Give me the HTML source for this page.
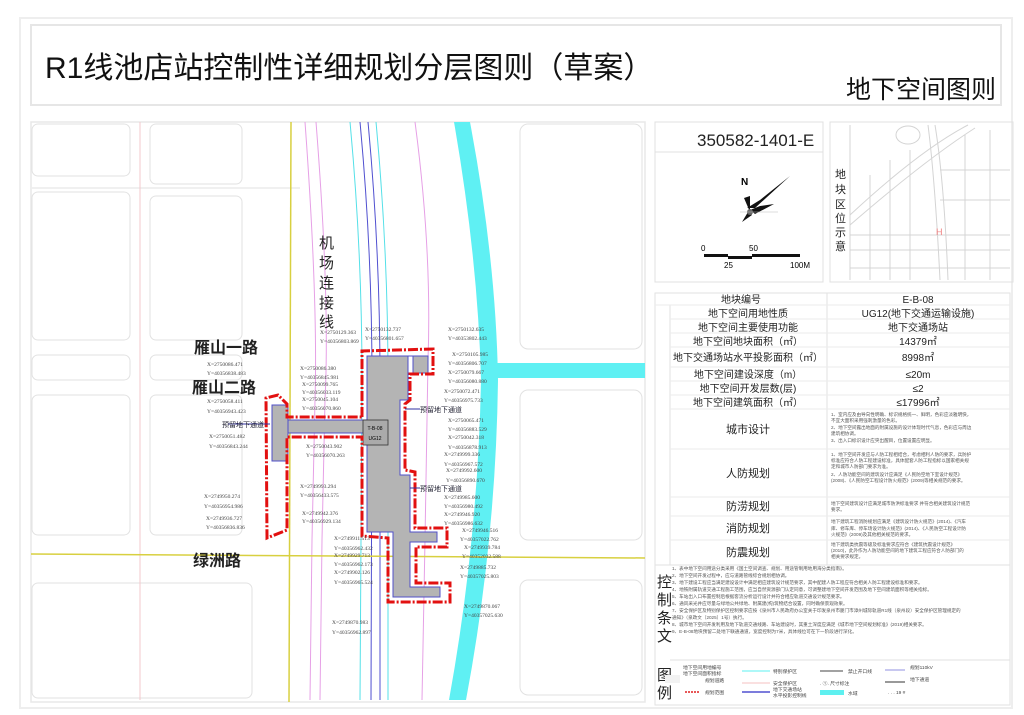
<!DOCTYPE html>
<html><head><meta charset="utf-8"><style>
html,body{margin:0;padding:0;background:#fff;}
body{width:1024px;height:715px;position:relative;overflow:hidden;font-family:"Liberation Sans","Noto Sans CJK SC",sans-serif;}
.abs{position:absolute;}
</style></head><body>
<svg class="abs" style="left:0;top:0" width="1024" height="715" viewBox="0 0 1024 715" font-family="Liberation Sans, Noto Sans CJK SC, sans-serif">
<rect x="20" y="18" width="992" height="690" fill="none" stroke="#eee" stroke-width="2"/>
<rect x="31" y="25" width="970" height="80" fill="none" stroke="#e6e6e6" stroke-width="2"/>
<text x="45" y="78" font-size="30" fill="#111">R1线池店站控制性详细规划分层图则（草案）</text>
<text x="846" y="98" font-size="25" fill="#111">地下空间图则</text>

<rect x="31" y="122" width="614" height="580" fill="#fff" stroke="#e8e8e8" stroke-width="1.5"/>
<g fill="none" stroke="#e2e2e2" stroke-width="1">
<rect x="32" y="124" width="98" height="52" rx="6"/>
<rect x="150" y="124" width="92" height="60" rx="6"/>
<rect x="32" y="192" width="98" height="148" rx="6"/>
<rect x="150" y="196" width="92" height="144" rx="6"/>
<rect x="32" y="355" width="98" height="25" rx="6"/>
<rect x="150" y="355" width="92" height="25" rx="6"/>
<rect x="32" y="395" width="98" height="140" rx="6"/>
<rect x="150" y="395" width="92" height="140" rx="6"/>
<rect x="32" y="583" width="220" height="115" rx="6"/>
<rect x="520" y="124" width="122" height="225" rx="8"/>
<rect x="520" y="390" width="122" height="150" rx="8"/>
<rect x="520" y="580" width="122" height="115" rx="8"/>
<line x1="32" y1="188" x2="300" y2="188"/>
</g>
<g fill="none" stroke="#e6a0e6" stroke-width="1">
<path d="M305 122 Q318 300 315 400 L312 540 L310 700"/>
<path d="M316 122 Q330 300 325 400 L322 540 L320 700"/>
<path d="M415 122 Q432 250 428 360 L425 540 L422 700"/>
<path d="M140 122 L140 700" stroke="#f3c8cc"/>
</g>
<g fill="none" stroke-width="1">
<path d="M350 122 Q362 250 362 380 L360 700" stroke="#55e0e8"/>
<path d="M360 122 Q372 250 372 380 L371 700" stroke="#5050d0"/>
<path d="M368 122 Q380 250 380 380 L380 700" stroke="#5050d0"/>
<path d="M376 122 Q388 250 388 380 L388 700" stroke="#55e0e8"/>
</g>
<path d="M454 122 L470 122 Q496 260 498 380 Q496 540 466 700 L449 700 Q478 540 481 380 Q478 260 454 122 Z" fill="#5ff0f3"/>
<rect x="490" y="363" width="155" height="15" fill="#5ff0f3"/>
<line x1="291" y1="122" x2="289" y2="702" stroke="#d8d040" stroke-width="1.5"/>
<line x1="31" y1="554" x2="645" y2="558" stroke="#d8d040" stroke-width="1.5"/>
<!-- gray station -->
<path d="M367 356 L413 356 L413 373 L428 373 L428 356 L413 356 L408 356 L408 400 L400 400 L400 475 L410 475 L410 532 L437 532 L437 542 L410 542 L410 587 L440 587 L440 597 L393 597 L393 542 L393 532 L367 532 Z" fill="#b4b4b4" stroke="#5050c8" stroke-width="1"/>
<rect x="413" y="356" width="15" height="17" fill="#b4b4b4" stroke="#5050c8"/>
<rect x="286" y="420" width="82" height="13" fill="#b4b4b4"/>
<line x1="287" y1="420" x2="367" y2="420" stroke="#5050c8"/>
<line x1="287" y1="433" x2="367" y2="433" stroke="#5050c8"/>
<rect x="272" y="405" width="16" height="56" fill="#b4b4b4" stroke="#5050c8"/>
<rect x="363" y="420" width="25" height="25" fill="#aaa" stroke="#333" stroke-width="0.8"/>
<text x="375" y="430" font-size="5" text-anchor="middle">T-B-08</text>
<text x="375" y="440" font-size="5" text-anchor="middle">UG12</text>
<!-- red boundary -->
<path d="M362 417 L362 351 L433 349 L433 374 L410 374 L410 400 L405 404 L405 470 L415 472 L415 528 L447 528 L447 547 L416 547 L416 583 L450 583 L450 602 L388 602 L388 538 L362 536 L362 437 L287 437 L287 530 L267 538 L266 398 L278 395 L287 404 L287 417 Z" fill="none" stroke="#e21010" stroke-width="3" stroke-dasharray="10,2,2,2"/>
<g font-size="7" fill="#223">
<line x1="405" y1="409" x2="420" y2="409" stroke="#3030a0"/><text x="420" y="412">预留地下通道</text>
<line x1="410" y1="488" x2="420" y2="488" stroke="#3030a0"/><text x="420" y="491">预留地下通道</text>
<line x1="228" y1="424" x2="270" y2="424" stroke="#3030a0"/><text x="222" y="427">预留地下通道</text>
</g>
<g font-size="16" font-weight="bold" fill="#222">
<text x="194" y="353">雁山一路</text>
<text x="192" y="393">雁山二路</text>
<text x="193" y="566">绿洲路</text>
</g>
<g font-size="15" fill="#222">
<text x="319" y="248">机</text><text x="319" y="268">场</text><text x="319" y="288">连</text><text x="319" y="308">接</text><text x="319" y="327">线</text>
</g>
<g font-size="5.5" fill="#444" font-family="Liberation Serif, serif">
<text x="320" y="334">X=2750129.363</text><text x="320" y="343">Y=40356803.869</text>
<text x="365" y="331">X=2750132.737</text><text x="365" y="340">Y=40356801.657</text>
<text x="448" y="331">X=2750132.635</text><text x="448" y="340">Y=40353802.443</text>
<text x="452" y="356">X=2750105.985</text><text x="448" y="365">Y=40356806.707</text>
<text x="448" y="374">X=2750079.667</text><text x="448" y="383">Y=40356080.880</text>
<text x="444" y="393">X=2750072.471</text><text x="444" y="402">Y=40356975.733</text>
<text x="448" y="422">X=2750065.471</text><text x="448" y="431">Y=40356883.529</text>
<text x="448" y="439">X=2750042.318</text><text x="448" y="449">Y=40356878.913</text>
<text x="444" y="456">X=2749999.336</text><text x="444" y="466">Y=40356967.572</text>
<text x="446" y="472">X=2749992.600</text><text x="446" y="482">Y=40356890.670</text>
<text x="444" y="499">X=2749985.600</text><text x="444" y="508">Y=40356980.492</text>
<text x="444" y="516">X=2749946.920</text><text x="444" y="525">Y=40356986.632</text>
<text x="462" y="532">X=2749946.516</text><text x="460" y="541">Y=40357022.762</text>
<text x="464" y="549">X=2749939.784</text><text x="462" y="558">Y=40352032.588</text>
<text x="460" y="569">X=2749885.732</text><text x="460" y="578">Y=40357025.803</text>
<text x="464" y="608">X=2749870.067</text><text x="464" y="617">Y=40357025.630</text>
<text x="300" y="370">X=2750086.380</text><text x="300" y="379">Y=40356845.981</text>
<text x="302" y="386">X=2750099.765</text><text x="302" y="394">Y=40356033.119</text>
<text x="302" y="401">X=2750045.104</text><text x="302" y="410">Y=40356070.860</text>
<text x="306" y="448">X=2750043.902</text><text x="306" y="457">Y=40356070.263</text>
<text x="300" y="488">X=2749993.294</text><text x="300" y="497">Y=40356433.575</text>
<text x="302" y="515">X=2749942.376</text><text x="302" y="523">Y=40356929.134</text>
<text x="334" y="540">X=2749911.513</text><text x="334" y="550">Y=40356962.432</text>
<text x="334" y="557">X=2749929.713</text><text x="334" y="566">Y=40356962.173</text>
<text x="334" y="574">X=2749902.126</text><text x="334" y="584">Y=40356965.524</text>
<text x="332" y="624">X=2749870.983</text><text x="332" y="634">Y=40356962.897</text>
<text x="207" y="366">X=2750086.471</text><text x="207" y="375">Y=40356838.483</text>
<text x="207" y="403">X=2750058.411</text><text x="207" y="413">Y=40356943.423</text>
<text x="209" y="438">X=2750051.482</text><text x="209" y="448">Y=40356843.244</text>
<text x="204" y="498">X=2749950.274</text><text x="204" y="508">Y=40356954.986</text>
<text x="206" y="520">X=2749936.727</text><text x="206" y="529">Y=40356836.836</text>
</g>

<rect x="655" y="122" width="168" height="160" fill="none" stroke="#e0e0e0"/>
<line x1="655" y1="152" x2="823" y2="152" stroke="#e0e0e0"/>
<text x="697" y="146" font-size="17" fill="#222">350582-1401-E</text>
<text x="741" y="185" font-size="10" font-weight="bold">N</text>
<g fill="#111">
<polygon points="790,176 760,200 747,208 755,208"/>
<polygon points="750,196 744,198 750,212"/>
<polygon points="750,210 760,206 774,204 755,214"/>
<polygon points="748,212 742,222 752,215"/>
<circle cx="750" cy="212" r="3" fill="#666"/>
</g>
<line x1="740" y1="212" x2="778" y2="212" stroke="#bbb" stroke-width="0.6"/>
<rect x="704" y="254" width="24" height="3" fill="#111"/>
<rect x="728" y="256" width="24" height="3" fill="#111"/>
<rect x="752" y="254" width="48" height="3" fill="#111"/>
<text x="701" y="251" font-size="8">0</text><text x="749" y="251" font-size="8">50</text>
<text x="724" y="268" font-size="8">25</text><text x="790" y="268" font-size="8">100M</text>
<rect x="830" y="122" width="183" height="160" fill="none" stroke="#e0e0e0"/>
<g fill="none" stroke="#d4d4d4" stroke-width="1">
<line x1="850" y1="125" x2="850" y2="280"/>
<path d="M850 215 Q920 150 968 125"/><path d="M850 225 Q925 160 975 128"/>
<path d="M928 125 Q935 180 940 280"/><path d="M935 125 Q944 180 948 280"/>
<line x1="850" y1="235" x2="1010" y2="235"/><line x1="850" y1="250" x2="1010" y2="250"/>
<line x1="850" y1="268" x2="1010" y2="268"/><line x1="870" y1="175" x2="870" y2="280"/>
<line x1="890" y1="160" x2="890" y2="280"/><line x1="910" y1="150" x2="910" y2="280"/>
<line x1="965" y1="135" x2="965" y2="280"/><line x1="990" y1="130" x2="990" y2="280"/>
<line x1="940" y1="200" x2="1010" y2="200"/><line x1="940" y1="170" x2="1010" y2="170"/>
<ellipse cx="908" cy="135" rx="12" ry="9"/>
</g>
<text x="936" y="235" font-size="9" fill="#f08080">H</text>
<g font-size="11" fill="#222"><text x="835" y="178">地</text><text x="835" y="193">块</text><text x="835" y="208">区</text><text x="835" y="222">位</text><text x="835" y="236">示</text><text x="835" y="250">意</text></g>

<g stroke="#e2e2e2" fill="none" stroke-width="1">
<rect x="655" y="293" width="355" height="412"/>
<line x1="827" y1="293" x2="827" y2="565"/>
<line x1="670" y1="305" x2="670" y2="565"/>
<line x1="670" y1="660" x2="1010" y2="660"/>
<line x1="655" y1="565" x2="1010" y2="565"/>
</g>
<g stroke="#ebebeb" stroke-width="1">
<line x1="655" y1="305" x2="1010" y2="305"/>
<line x1="670" y1="319" x2="1010" y2="319"/>
<line x1="670" y1="333" x2="1010" y2="333"/>
<line x1="670" y1="347" x2="1010" y2="347"/>
<line x1="670" y1="367" x2="1010" y2="367"/>
<line x1="670" y1="381" x2="1010" y2="381"/>
<line x1="670" y1="395" x2="1010" y2="395"/>
<line x1="670" y1="409" x2="1010" y2="409"/>
<line x1="670" y1="449" x2="1010" y2="449"/>
<line x1="670" y1="497" x2="1010" y2="497"/>
<line x1="670" y1="516" x2="1010" y2="516"/>
<line x1="670" y1="540" x2="1010" y2="540"/>
</g>
<g font-size="10" fill="#222" text-anchor="middle">
<text x="741" y="303">地块编号</text><text x="918" y="303">E-B-08</text>
<text x="748" y="317">地下空间用地性质</text><text x="918" y="317">UG12(地下交通运输设施)</text>
<text x="748" y="331">地下空间主要使用功能</text><text x="918" y="331">地下交通场站</text>
<text x="748" y="345">地下空间地块面积（㎡）</text><text x="918" y="345">14379㎡</text>
<text x="748" y="361">地下交通场站水平投影面积（㎡）</text><text x="918" y="361">8998㎡</text>
<text x="748" y="378">地下空间建设深度（m）</text><text x="918" y="378">≤20m</text>
<text x="748" y="392">地下空间开发层数(层)</text><text x="918" y="392">≤2</text>
<text x="748" y="406">地下空间建筑面积（㎡）</text><text x="918" y="406">≤17996㎡</text>
<text x="748" y="433" font-size="11">城市设计</text>
<text x="748" y="477" font-size="11">人防规划</text>
<text x="748" y="510" font-size="11">防涝规划</text>
<text x="748" y="532" font-size="11">消防规划</text>
<text x="748" y="556" font-size="11">防震规划</text>
</g>
<g font-size="4.6" fill="#555">
<text x="831" y="416">1、室内应及由导向性明确、标识规格统一、鲜明，色彩应淡雅明快，</text>
<text x="831" y="422">不宜大面积采用强刺激量的色彩。</text>
<text x="831" y="429">2、地下空间露出地面的附属设施的设计体现时代气息，色彩应与周边</text>
<text x="831" y="435">建筑相协调。</text>
<text x="831" y="442">3、出入口标识设计应突出醒目，位置设置应明显。</text>
<text x="831" y="456">1、地下空间开发应与人防工程相结合，考虑相利人防的要求，兵防护</text>
<text x="831" y="462">标准应符合人防工程建设标准，具体配套人防工程指标以国家相关规</text>
<text x="831" y="468">定和城市人防部门要求为准。</text>
<text x="831" y="476">2、人防功能空间的建筑设计应满足《人民防空地下室设计规范》</text>
<text x="831" y="482">(2008)、《人民防空工程设计防火规范》(2009)等相关规范的要求。</text>
<text x="831" y="505">地下空间建筑设计应满足城市防洪标准要求 并符合相关建筑设计规范</text>
<text x="831" y="511">要求。</text>
<text x="831" y="523">地下建筑工程消防规划应满足《建筑设计防火规范》(2014)、《汽车</text>
<text x="831" y="530">库、修车库、停车场设计防火规范》(2014)、《人民防空工程设计防</text>
<text x="831" y="536">火规范》(2009)及其他相关规范的要求。</text>
<text x="831" y="546">地下建筑类抗震等级及标准要求应符合《建筑抗震设计规范》</text>
<text x="831" y="552">(2010)，此外作为人防功能空间的地下建筑工程应符合人防部门的</text>
<text x="831" y="558">相关要求规定。</text>
</g>
<g font-size="15" fill="#222"><text x="657" y="587">控</text><text x="657" y="605">制</text><text x="657" y="623">条</text><text x="657" y="641">文</text>
<text x="657" y="680">图</text><text x="657" y="698">例</text></g>
<g font-size="4.6" fill="#555">
<text x="672" y="570">1、表中地下空间用途分类采用《国土空间调查、规划、用途管制用地用海分类指南》。</text>
<text x="672" y="577">2、地下空间开发过程中，应与道路管线综合规划相协调。</text>
<text x="672" y="584">3、地下建设工程应当满足建设设计中满足相应建筑设计规范要求，其中配建人防工程应符合相关人防工程建设标准和要求。</text>
<text x="672" y="591">4、地铁附属轨道交通工程施工范围，应当自然资源部门认定同意，可调整建地下空间开发范围及地下空间建筑面积等相关指标。</text>
<text x="672" y="598">5、车站出入口布置控制后根据客流分析运行设计并符合相应轨道交通设计规范要求。</text>
<text x="672" y="605">6、通风采光井应尽量与绿地公共绿地、附属建(构)筑物结合设置，同时确保景观效果。</text>
<text x="672" y="612">7、安全保护区及特别保护区控制要求应按《泉州市人民政府办公室关于印发泉州市厦门市漳州城际轨道R1线（泉州段）安全保护区管理规定的</text>
<text x="672" y="619">通知》（泉政文〔2025〕1号）执行。</text>
<text x="672" y="626">8、城市地下空间开发利用及地下轨道交通线路、车站建设时，其重土深度应满足《城市地下空间规划标准》(2019)相关要求。</text>
<text x="672" y="633">9、E-B-08地块预留二处地下联通通道，宽度控制为7米，具体线位可在下一阶段进行深化。</text>
</g>
<g font-size="4.8" fill="#444">
<text x="683" y="669">地下空间用地编号</text><text x="683" y="675">地下空间面积指标</text>
<rect x="665" y="675" width="15" height="8" fill="#f2f2f2"/><text x="705" y="682">规划道路</text>
<line x1="685" y1="692" x2="700" y2="692" stroke="#e02020" stroke-width="1.5" stroke-dasharray="2,1"/><text x="705" y="694">规划范围</text>
<line x1="742" y1="671" x2="770" y2="671" stroke="#5ef0f0"/><text x="773" y="673">特别保护区</text>
<line x1="742" y1="683" x2="770" y2="683" stroke="#f4c0c0"/><text x="773" y="685">安全保护区</text>
<line x1="742" y1="692" x2="770" y2="692" stroke="#5050d0" stroke-width="1.5"/><text x="773" y="691">地下交通场站</text><text x="773" y="697">水平投影控制线</text>
<line x1="820" y1="671" x2="843" y2="671" stroke="#444"/><text x="848" y="673">禁止开口线</text>
<text x="820" y="685">. ①. 尺寸标注</text>
<rect x="820" y="690" width="24" height="5" fill="#5ef0f0"/><text x="848" y="695">水域</text>
<line x1="885" y1="670" x2="905" y2="670" stroke="#9090e0"/><text x="910" y="669">规划110kV</text>
<line x1="885" y1="682" x2="905" y2="682" stroke="#333"/><text x="910" y="681">地下通道</text>
<text x="888" y="694">. . . 19 #</text>
</g>
</svg>
</body></html>
